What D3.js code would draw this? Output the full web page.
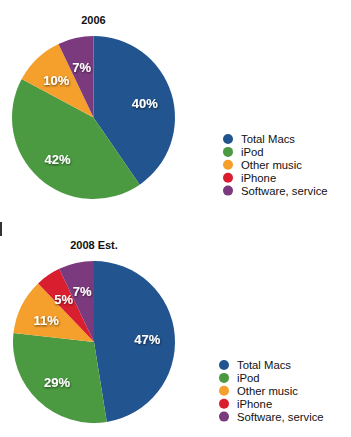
<!DOCTYPE html>
<html>
<head>
<meta charset="utf-8">
<script src="https://cdn.jsdelivr.net/npm/d3@7"></script>
<style>
  body { margin: 0; background: #fff; }
  svg { display: block; font-family: "Liberation Sans", Helvetica, Arial, sans-serif; }
</style>
</head>
<body>
<div id="chart-area"></div>
<script>
var categories = ["Total Macs", "iPod", "Other music", "iPhone", "Software, service"];
var colors = ["#22548f", "#4b9a41", "#f5a02c", "#d91e2f", "#7b3a7d"];
var values2006 = [40, 42, 10, 0, 7];
var values2008 = [47, 29, 11, 5, 7];
var titles = ["2006", "2008 Est."];

var width = 351, height = 437;

var svg = d3.select("#chart-area").append("svg")
    .attr("width", width)
    .attr("height", height);

var defs = svg.append("defs");
var shadow = defs.append("filter").attr("id", "txtshadow")
    .attr("x", "-20%").attr("y", "-20%").attr("width", "140%").attr("height", "140%");
shadow.append("feDropShadow")
    .attr("dx", 0.5).attr("dy", 1).attr("stdDeviation", 0.8)
    .attr("flood-color", "#000").attr("flood-opacity", 0.6);

var color = d3.scaleOrdinal().domain(categories).range(colors);

var pie = d3.pie().sort(null).value((d) => { return d.value });

// one block per year: pie center, radius, title y, legend position
var charts = [
    {values: values2006, title: titles[0], cx: 93.5, cy: 117.5, r: 81.5, titleY: 24, legX: 228, legY: 139},
    {values: values2008, title: titles[1], cx: 94, cy: 342, r: 81, titleY: 249, legX: 224, legY: 365}
];

// stray mark at the left edge
svg.append("rect").attr("x", 0).attr("y", 222).attr("width", 2).attr("height", 14).attr("fill", "#333");

charts.forEach((c) => {
    var data = categories.map((name, i) => { return {name: name, value: c.values[i]} });

    svg.append("text")
        .attr("x", c.cx).attr("y", c.titleY)
        .attr("text-anchor", "middle")
        .attr("font-size", "11px").attr("font-weight", "bold")
        .attr("fill", "#111")
        .text(c.title);

    var g = svg.append("g")
        .attr("transform", "translate(" + c.cx + ", " + c.cy + ")");

    var arc = d3.arc().innerRadius(0).outerRadius(c.r);
    var labelArc = d3.arc().innerRadius(c.r * 0.66).outerRadius(c.r * 0.66);

    var arcs = pie(data).filter((d) => { return d.data.value > 0 });

    g.selectAll("path").data(arcs).enter().append("path")
        .attr("d", arc)
        .attr("fill", (d) => { return color(d.data.name) });

    g.selectAll("text").data(arcs).enter().append("text")
        .attr("transform", (d) => {
            var p = labelArc.centroid(d);
            return "translate(" + p[0] + ", " + p[1] + ")";
        })
        .attr("text-anchor", "middle")
        .attr("dy", "0.5em")
        .attr("font-size", "13px").attr("font-weight", "bold")
        .attr("fill", "#fff")
        .attr("filter", "url(#txtshadow)")
        .text((d) => { return d.data.value + "%" });

    var leg = svg.append("g")
        .attr("transform", "translate(" + c.legX + ", " + c.legY + ")");
    var rows = leg.selectAll("g").data(categories).enter().append("g")
        .attr("transform", (d, i) => { return "translate(0, " + (i * 12.9) + ")" });
    rows.append("circle")
        .attr("r", 5)
        .attr("fill", (d) => { return color(d) });
    rows.append("text")
        .attr("x", 13).attr("dy", "0.36em")
        .attr("font-size", "11.3px")
        .attr("fill", "#111")
        .text((d) => { return d });
});
</script>
</body>
</html>
